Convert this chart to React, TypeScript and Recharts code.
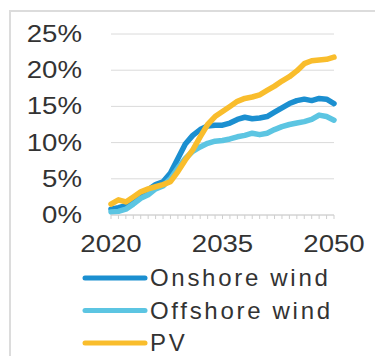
import { LineChart, Line, XAxis, YAxis, CartesianGrid, Legend } from 'recharts'

// Share of generation by technology, 2020-2050

const years = [
  2020, 2021, 2022, 2023, 2024, 2025, 2026, 2027, 2028, 2029, 2030,
  2031, 2032, 2033, 2034, 2035, 2036, 2037, 2038, 2039, 2040,
  2041, 2042, 2043, 2044, 2045, 2046, 2047, 2048, 2049, 2050,
]

const onshore = [
  0.8, 1.0, 1.3, 2.0, 2.8, 3.5, 4.2, 4.6, 5.8, 7.8, 9.8,
  11.0, 11.8, 12.3, 12.4, 12.4, 12.7, 13.2, 13.5, 13.3, 13.4,
  13.6, 14.2, 14.8, 15.4, 15.8, 16.0, 15.8, 16.1, 16.0, 15.4,
]

const offshore = [
  0.4, 0.5, 0.8, 1.5, 2.3, 2.8, 3.6, 4.0, 5.0, 6.5, 7.8,
  8.8, 9.4, 9.9, 10.2, 10.3, 10.5, 10.8, 11.0, 11.3, 11.1,
  11.3, 11.8, 12.2, 12.5, 12.7, 12.9, 13.2, 13.8, 13.6, 13.1,
]

const pv = [
  1.5, 2.1, 1.8, 2.5, 3.2, 3.6, 3.9, 4.2, 4.6, 6.0, 7.6,
  9.0, 10.8, 12.5, 13.6, 14.3, 15.0, 15.7, 16.1, 16.3, 16.6,
  17.2, 17.8, 18.5, 19.1, 19.9, 20.9, 21.3, 21.4, 21.5, 21.8,
]

const seriesNames = ['Onshore wind', 'Offshore wind', 'PV']
const yTicks = [0, 5, 10, 15, 20, 25]
const xLabels = [2020, 2035, 2050]

const data = years.map((year, i) => ({
  year,
  onshore: onshore[i],
  offshore: offshore[i],
  pv: pv[i],
}))

const FONT = '"Liberation Sans", Arial, sans-serif'
const TEXT = '#333333'

function YTick({ x, y, payload }: any) {
  return (
    <text
      transform={`translate(${x},${y + 8}) scale(1.2,1)`}
      textAnchor="end"
      fontSize={23}
      fontFamily={FONT}
      fill={TEXT}
    >
      {`${payload.value}%`}
    </text>
  )
}

function XTick({ x, y, payload }: any) {
  if (!xLabels.includes(payload.value)) return <g />
  return (
    <text
      transform={`translate(${x},${y + 31}) scale(1.2,1)`}
      textAnchor="middle"
      fontSize={23}
      fontFamily={FONT}
      fill={TEXT}
    >
      {payload.value}
    </text>
  )
}

function LegendBox({ payload }: any) {
  // keep series order, not alphabetical
  const items = seriesNames
    .map((n) => (payload ?? []).find((p: any) => p.value === n))
    .filter(Boolean)
  return (
    <svg width={375} height={94} style={{ display: 'block' }}>
      {items.map((p: any, i: number) => {
        const cy = 16 + i * 32.5
        return (
          <g key={p.value}>
            <line x1={85} x2={145} y1={cy} y2={cy} stroke={p.color} strokeWidth={5} strokeLinecap="round" />
            <text x={150} y={cy + 8} fontSize={24} letterSpacing={2.7} fontFamily={FONT} fill={TEXT}>
              {p.value}
            </text>
          </g>
        )
      })}
    </svg>
  )
}

export default function App() {
  return (
    <div style={{ position: 'absolute', left: 0, top: 0, width: 375, height: 356, overflow: 'hidden', background: '#fff' }}>
      <div
        style={{
          position: 'absolute',
          left: 9,
          top: 10,
          width: 400,
          height: 400,
          borderTop: '2px solid #dcdcdc',
          borderLeft: '2px solid #dcdcdc',
        }}
      />
      <LineChart
        width={375}
        height={356}
        data={data}
        margin={{ top: 34, right: 41, left: 11, bottom: 101 }}
        style={{ position: 'absolute', left: 0, top: 0 }}
      >
        <CartesianGrid vertical={false} stroke="#dadada" strokeWidth={1} />
        <XAxis
          dataKey="year"
          type="number"
          domain={[2020, 2050]}
          ticks={years}
          interval={0}
          height={40}
          tickSize={4}
          tickMargin={2}
          axisLine={{ stroke: '#d0d0d0' }}
          tickLine={{ stroke: '#cfcfcf' }}
          tick={<XTick />}
        />
        <YAxis
          type="number"
          domain={[0, 25]}
          ticks={yTicks}
          width={100}
          axisLine={false}
          tickLine={false}
          tickSize={0}
          tickMargin={29}
          tick={<YTick />}
        />
        <Legend
          layout="vertical"
          align="center"
          verticalAlign="middle"
          wrapperStyle={{ left: 0, top: 262, width: 375 }}
          content={<LegendBox />}
        />
        <Line
          name="Onshore wind"
          dataKey="onshore"
          stroke="#1b8fd0"
          strokeWidth={5.5}
          strokeLinejoin="round"
          strokeLinecap="round"
          dot={false}
          isAnimationActive={false}
        />
        <Line
          name="Offshore wind"
          dataKey="offshore"
          stroke="#5cc5e2"
          strokeWidth={5.5}
          strokeLinejoin="round"
          strokeLinecap="round"
          dot={false}
          isAnimationActive={false}
        />
        <Line
          name="PV"
          dataKey="pv"
          stroke="#f9bd2c"
          strokeWidth={5.5}
          strokeLinejoin="round"
          strokeLinecap="round"
          dot={false}
          isAnimationActive={false}
        />
      </LineChart>
    </div>
  )
}
